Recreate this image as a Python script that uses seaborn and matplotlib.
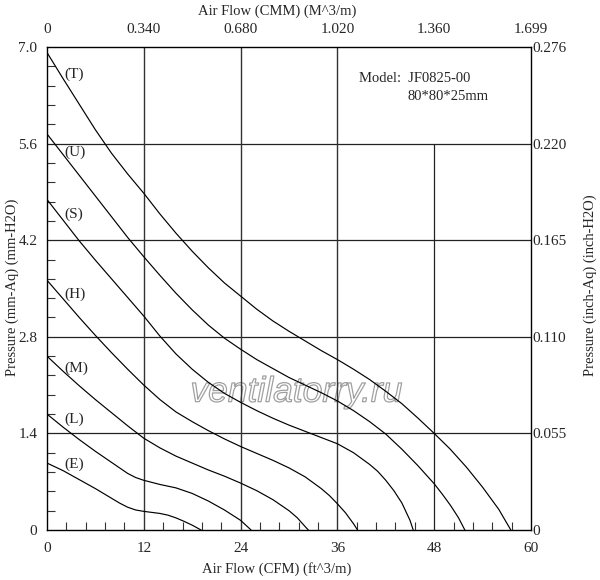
import pandas as pd
import matplotlib
matplotlib.use("Agg")
import matplotlib.pyplot as plt
import matplotlib.patheffects as pe
from matplotlib.ticker import MultipleLocator
import seaborn as sns

# --- curve data: air flow (CFM) vs static pressure (mm-Aq) ---
flow_T = [0, 2, 4, 6, 8, 10, 12, 14, 16, 18, 20, 22, 24, 26, 28, 30, 32, 34, 36,
          38, 40, 42, 44, 46, 48, 50, 52, 54, 56, 57.5]
pres_T = [6.92, 6.54, 6.17, 5.8, 5.46, 5.16, 4.88, 4.58, 4.3, 4.04, 3.8, 3.58, 3.39,
          3.2, 3.03, 2.88, 2.74, 2.6, 2.47, 2.33, 2.18, 2.01, 1.83, 1.62, 1.40, 1.17,
          0.91, 0.62, 0.3, 0]

flow_U = [0, 2, 4, 6, 8, 10, 12, 14, 16, 18, 20, 22, 24, 26, 28, 30, 32, 34, 36,
          38, 40, 42, 44, 46, 48, 49, 50, 51, 51.8]
pres_U = [5.74, 5.44, 5.14, 4.84, 4.54, 4.24, 3.96, 3.69, 3.43, 3.19, 2.97, 2.78, 2.62,
          2.47, 2.34, 2.21, 2.1, 1.99, 1.87, 1.73, 1.57, 1.39, 1.17, 0.93, 0.67, 0.52,
          0.36, 0.18, 0]

flow_S = [0, 2, 4, 6, 8, 10, 12, 14, 16, 18, 20, 22, 24, 26, 28, 30, 32, 34, 36,
          38, 40, 41, 42, 43, 44, 45, 45.4]
pres_S = [4.79, 4.49, 4.19, 3.91, 3.64, 3.37, 3.1, 2.81, 2.55, 2.33, 2.14, 1.98, 1.85,
          1.73, 1.62, 1.52, 1.43, 1.34, 1.25, 1.12, 0.95, 0.85, 0.72, 0.57, 0.39, 0.14, 0]

flow_H = [0, 2, 4, 6, 8, 10, 12, 14, 16, 18, 20, 22, 24, 26, 28, 30, 32, 34, 35,
          36, 37, 38, 38.5]
pres_H = [3.62, 3.35, 3.08, 2.82, 2.57, 2.33, 2.1, 1.89, 1.71, 1.57, 1.44, 1.32, 1.21,
          1.11, 1.01, 0.9, 0.77, 0.6, 0.5, 0.38, 0.25, 0.09, 0]

flow_M = [0, 2, 4, 6, 8, 10, 12, 14, 16, 18, 20, 22, 24, 26, 28, 30, 31, 32, 32.4]
pres_M = [2.52, 2.3, 2.09, 1.89, 1.7, 1.51, 1.33, 1.19, 1.07, 0.97, 0.87, 0.78, 0.68,
          0.57, 0.44, 0.28, 0.18, 0.05, 0]

flow_L = [0, 2, 4, 6, 7, 8, 9, 10, 11, 12, 14, 16, 18, 20, 22, 24, 25.3]
pres_L = [1.68, 1.49, 1.31, 1.14, 1.06, 0.98, 0.9, 0.82, 0.76, 0.72, 0.66, 0.61, 0.53,
          0.42, 0.29, 0.14, 0]

flow_E = [0, 2, 4, 6, 8, 9, 10, 11, 12, 13, 14, 15, 16, 17, 18, 19.1]
pres_E = [0.97, 0.86, 0.73, 0.6, 0.46, 0.39, 0.33, 0.29, 0.27, 0.255, 0.24, 0.215,
          0.175, 0.125, 0.07, 0]

curve_names = ["T", "U", "S", "H", "M", "L", "E"]

# axis ticks and their labels
cfm_ticks = [0, 12, 24, 36, 48, 60]
cmm_labels = ["0", "0.340", "0.680", "1.020", "1.360", "1.699"]
mm_ticks = [0, 1.4, 2.8, 4.2, 5.6, 7.0]
mm_labels = ["0", "1.4", "2.8", "4.2", "5.6", "7.0"]
inch_labels = ["0", "0.055", "0.110", "0.165", "0.220", "0.276"]

# curve label anchors (CFM, mm-Aq)
label_x = [2.2] * 7
label_y = [6.61, 5.47, 4.58, 3.42, 2.35, 1.61, 0.96]

flows = [flow_T, flow_U, flow_S, flow_H, flow_M, flow_L, flow_E]
pressures = [pres_T, pres_U, pres_S, pres_H, pres_M, pres_L, pres_E]
df = pd.concat(
    [pd.DataFrame({"cfm": f, "mmaq": p, "curve": n}) for n, f, p in zip(curve_names, flows, pressures)],
    ignore_index=True,
)

# --- style ---
sns.set_theme(style="white")
plt.rcParams["font.family"] = ["Liberation Serif", "DejaVu Serif"]
plt.rcParams["font.size"] = 10.5

fig = plt.figure(figsize=(6, 5.8), dpi=100)
ax = fig.add_axes([47 / 600, 50 / 580, 484 / 600, 483 / 580])

# grid (the 48 CFM line stops at 5.6)
for yv in [1.4, 2.8, 4.2, 5.6]:
    ax.axhline(yv, color="#222222", lw=0.9, zorder=2)
for xv in [12, 24, 36]:
    ax.axvline(xv, color="#333333", lw=1.0, zorder=2)
ax.vlines(48, 0, 5.6, color="#222222", lw=0.9, zorder=2)

sns.lineplot(
    data=df, x="cfm", y="mmaq", hue="curve", hue_order=curve_names,
    palette={n: "black" for n in curve_names}, estimator=None, sort=False,
    legend=False, linewidth=0.85, ax=ax, zorder=3,
)

for n, lx, ly in zip(curve_names, label_x, label_y):
    ax.text(lx, ly, f"({n})", fontsize=11, ha="left", va="center", zorder=4)

ax.text(38.7, 6.55, "Model:  JF0825-00", fontsize=10.5, ha="left", va="center")
ax.text(44.7, 6.28, "80*80*25mm", fontsize=10.5, ha="left", va="center")

ax.text(30.9, 1.86, "ventilatorry.ru", fontsize=25.5, family="Liberation Sans",
        style="italic", color="none", ha="center", va="baseline", zorder=1.5,
        path_effects=[pe.Stroke(linewidth=0.9, foreground="#a0a0a0")])

ax.set_xlim(0, 60)
ax.set_ylim(0, 7)
ax.set_xticks(cfm_ticks, [str(t) for t in cfm_ticks])
ax.set_yticks(mm_ticks, mm_labels)
ax.xaxis.set_minor_locator(MultipleLocator(2.4))
ax.yaxis.set_minor_locator(MultipleLocator(0.28))
ax.tick_params(which="major", length=0)
ax.tick_params(axis="x", which="major", pad=9)
ax.tick_params(axis="y", which="major", pad=7)
ax.tick_params(which="minor", direction="in", length=6, width=0.8, color="#333333",
               top=True, right=True, bottom=True, left=True)
for s in ax.spines.values():
    s.set_color("black")
    s.set_linewidth(1.0)

ax.set_xlabel("Air Flow (CFM) (ft^3/m)", fontsize=10.5)
ax.xaxis.set_label_coords(0.475, -0.066)
ax.set_ylabel("Pressure (mm-Aq) (mm-H2O)", fontsize=10.5)
ax.yaxis.set_label_coords(-0.058, 0.503)

# top axis: CMM
ax_top = ax.twiny()
ax_top.set_xlim(0, 60)
ax_top.set_xticks(cfm_ticks, cmm_labels)
ax_top.tick_params(which="major", length=0, pad=8)
ax_top.set_xlabel("Air Flow (CMM) (M^3/m)", fontsize=10.5)
ax_top.xaxis.set_label_coords(0.475, 1.066)

# right axis: inch-Aq
ax_r = ax.twinx()
ax_r.set_ylim(0, 7)
ax_r.set_yticks(mm_ticks, inch_labels)
ax_r.tick_params(which="major", length=0, pad=1)
ax_r.set_ylabel("Pressure (inch-Aq) (inch-H2O)", fontsize=10.5)
ax_r.yaxis.set_label_coords(1.108, 0.507)

for a in (ax_top, ax_r):
    for s in a.spines.values():
        s.set_visible(False)

fig.savefig("out.png", dpi=100)
